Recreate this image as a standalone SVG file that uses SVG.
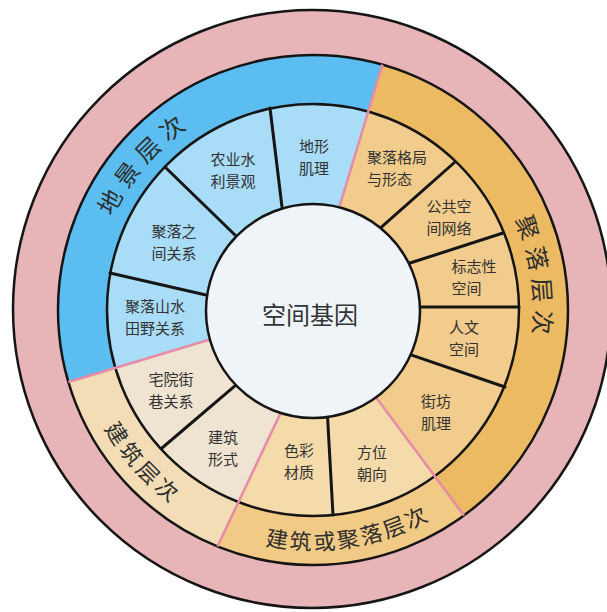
<svg xmlns="http://www.w3.org/2000/svg" width="607" height="612" viewBox="0 0 607 612">
  <defs>
    <style>
      .ring{fill:none;stroke:#151515;stroke-width:2.5}
      .div{stroke:#151515;stroke-width:3;stroke-linecap:round}
      .pk{stroke:#E68CA8;stroke-width:2.5}
      .seg{font-family:"Noto Sans CJK SC","Noto Sans CJK JP",sans-serif;font-size:15px;fill:#333}
      .lay{font-family:"Noto Sans CJK SC","Noto Sans CJK JP",sans-serif;fill:#2e2e2e}
      .core{font-family:"Noto Sans CJK SC","Noto Sans CJK JP",sans-serif;font-size:24px;fill:#333}
    </style>
    <path id="arcDijing" d="M96.1,267.8 A221,221 0 0 1 241.0,101.0"/>
    <path id="arcJuluo" d="M486.9,173.6 A221,221 0 0 1 518.0,392.4"/>
    <path id="arcJianzhu" d="M83.5,380.2 A240,240 0 0 0 219.2,530.9"/>
    <path id="arcMix" d="M230.9,535.5 A240,240 0 0 0 460.8,499.1"/>
  </defs>

  <g id="outer-ring">
    <circle cx="312" cy="309" r="299" fill="#E7B4B8" stroke="#151515" stroke-width="2.5"/>
  </g>

  <g id="layer-dijing">
    <path d="M313,310 L115.3,367.9 L68.4,382.0 A255,255 0 0 1 382.4,64.6 L368.2,111.5 Z" fill="#5CBEF0"/>
    <text class="lay" font-size="24" letter-spacing="7"><textPath href="#arcDijing" startOffset="50%" text-anchor="middle">地景层次</textPath></text>
  </g>
  <g id="layer-juluo">
    <path d="M313,310 L368.2,111.5 L382.4,64.6 A255,255 0 0 1 464.0,515.5 L434.7,476.2 Z" fill="#ECBA62"/>
    <text class="lay" font-size="24" letter-spacing="7"><textPath href="#arcJuluo" startOffset="50%" text-anchor="middle">聚落层次</textPath></text>
  </g>
  <g id="layer-mix">
    <path d="M313,310 L434.7,476.2 L464.0,515.5 A255,255 0 0 1 217.5,546.4 L238.5,501.9 Z" fill="#F1CA85"/>
    <text class="lay" font-size="22" letter-spacing="2.5"><textPath href="#arcMix" startOffset="50%" text-anchor="middle">建筑或聚落层次</textPath></text>
  </g>
  <g id="layer-jianzhu">
    <path d="M313,310 L238.5,501.9 L217.5,546.4 A255,255 0 0 1 68.4,382.0 L115.3,367.9 Z" fill="#F2DDB6"/>
    <text class="lay" font-size="22" letter-spacing="4"><textPath href="#arcJianzhu" startOffset="50%" text-anchor="middle">建筑层次</textPath></text>
  </g>

  <g id="inner-fills">
    <path d="M313,310 L210.1,339.5 L115.3,367.9 A206,206 0 0 1 368.2,111.5 L339.6,206.4 Z" fill="#A8DCF7"/>
    <path d="M313,310 L339.6,206.4 L368.2,111.5 A206,206 0 0 1 434.7,476.2 L375.6,396.8 Z" fill="#F2CC8C"/>
    <path d="M313,310 L375.6,396.8 L434.7,476.2 A206,206 0 0 1 238.5,501.9 L281.0,412.1 Z" fill="#F5DAAA"/>
    <path d="M313,310 L281.0,412.1 L238.5,501.9 A206,206 0 0 1 115.3,367.9 L210.1,339.5 Z" fill="#EFE4D1"/>
  </g>

  <g id="rings">
    <circle class="ring" cx="313" cy="310" r="255"/>
    <circle class="ring" cx="313" cy="310" r="206"/>
  </g>

  <g id="connectors">
    <line class="div" x1="282" y1="207" x2="270" y2="108"/>
    <line class="div" x1="235" y1="235" x2="165" y2="167"/>
    <line class="div" x1="206" y1="295" x2="110" y2="273"/>
    <line class="div" x1="381.1" y1="227.4" x2="455" y2="162"/>
    <line class="div" x1="409.3" y1="263.3" x2="503" y2="233"/>
    <line class="div" x1="420" y1="307" x2="519" y2="307"/>
    <line class="div" x1="410.2" y1="354.7" x2="505" y2="387"/>
    <line class="div" x1="327.5" y1="416" x2="333" y2="515"/>
    <line class="div" x1="236.4" y1="384.7" x2="162" y2="448"/>
    <line class="pk" x1="339.6" y1="206.4" x2="382.4" y2="64.6"/>
    <line class="pk" x1="210.1" y1="339.5" x2="68.4" y2="382.0"/>
    <line class="pk" x1="281.0" y1="412.1" x2="217.5" y2="546.4"/>
    <line class="pk" x1="375.6" y1="396.8" x2="464.0" y2="515.5"/>
  </g>

  <g id="core">
    <circle cx="313" cy="311" r="107" fill="#EFF4F8" stroke="#151515" stroke-width="2.5"/>
    <text class="core" x="310" y="324" text-anchor="middle">空间基因</text>
  </g>

  <g id="seg-dixing"><text class="seg" y="152"><tspan x="299">地形</tspan><tspan x="299" dy="22">肌理</tspan></text></g>
  <g id="seg-nongye"><text class="seg" y="165"><tspan x="210.5">农业水</tspan><tspan x="210.5" dy="22">利景观</tspan></text></g>
  <g id="seg-zhijian"><text class="seg" y="237"><tspan x="151.5">聚落之</tspan><tspan x="151.5" dy="22">间关系</tspan></text></g>
  <g id="seg-shanshui"><text class="seg" y="312"><tspan x="125">聚落山水</tspan><tspan x="125" dy="22">田野关系</tspan></text></g>
  <g id="seg-zhaiyuan"><text class="seg" y="385"><tspan x="148.5">宅院街</tspan><tspan x="148.5" dy="22">巷关系</tspan></text></g>
  <g id="seg-xingshi"><text class="seg" y="443"><tspan x="208">建筑</tspan><tspan x="208" dy="22">形式</tspan></text></g>
  <g id="seg-secai"><text class="seg" y="456"><tspan x="284">色彩</tspan><tspan x="284" dy="22">材质</tspan></text></g>
  <g id="seg-fangwei"><text class="seg" y="458"><tspan x="357">方位</tspan><tspan x="357" dy="22">朝向</tspan></text></g>
  <g id="seg-jiefang"><text class="seg" y="407"><tspan x="421">街坊</tspan><tspan x="421" dy="22">肌理</tspan></text></g>
  <g id="seg-renwen"><text class="seg" y="333"><tspan x="449">人文</tspan><tspan x="449" dy="22">空间</tspan></text></g>
  <g id="seg-biaozhi"><text class="seg" y="272"><tspan x="451.5">标志性</tspan><tspan x="451.5" dy="22">空间</tspan></text></g>
  <g id="seg-gonggong"><text class="seg" y="212"><tspan x="426.5">公共空</tspan><tspan x="426.5" dy="22">间网络</tspan></text></g>
  <g id="seg-geju"><text class="seg" y="163"><tspan x="367">聚落格局</tspan><tspan x="367" dy="22">与形态</tspan></text></g>
</svg>
